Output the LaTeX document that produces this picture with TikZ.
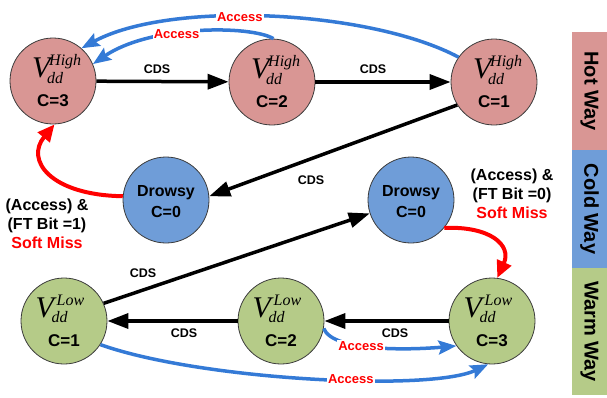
\documentclass[tikz,border=0pt]{standalone}
\usepackage{fontspec}
\setmainfont{Liberation Sans}
\newfontfamily\tnr{Liberation Serif}
\usetikzlibrary{arrows.meta}
\definecolor{hotc}{RGB}{217,150,148}
\definecolor{coldc}{RGB}{111,157,216}
\definecolor{warmc}{RGB}{181,203,136}
\definecolor{arrowblue}{RGB}{52,122,214}
\definecolor{edgegray}{RGB}{60,60,60}
\newcommand{\vhigh}{{\tnr\itshape\fontsize{30}{30}\selectfont V\kern-3.3pt\fontsize{16}{16}\selectfont\rlap{\raisebox{-6pt}{dd}}\kern2pt\raisebox{12pt}{High}}}
\newcommand{\vlow}{{\tnr\itshape\fontsize{30}{30}\selectfont V\kern-2.3pt\fontsize{16}{16}\selectfont\rlap{\raisebox{-5pt}{dd}}\kern5pt\raisebox{12pt}{Low}}}
\tikzset{
  state/.style={circle, draw=edgegray, line width=0.8pt, minimum size=86pt, inner sep=0pt},
  hotstate/.style={state, fill=hotc},
  coldstate/.style={state, fill=coldc},
  warmstate/.style={state, fill=warmc},
  vtext/.style={anchor=base west, inner sep=0pt},
  ctext/.style={anchor=base, inner sep=0pt, font=\fontsize{17}{17}\selectfont\bfseries},
  cdsarrow/.style={line width=3.5pt, -{Triangle[length=21pt,width=15pt]}},
  cdslbl/.style={font=\fontsize{12.5}{12.5}\selectfont\bfseries, inner sep=0pt},
  accarrow/.style={arrowblue, line width=3.5pt, -{Stealth[length=18pt,width=14pt,inset=3pt]}},
  acclbl/.style={font=\fontsize{13}{13}\selectfont\bfseries, text=red, fill=white, inner sep=1pt},
  missarrow/.style={red, line width=4pt, -{Triangle[length=17pt,width=15pt]}},
  misslbl/.style={font=\fontsize{16}{19}\selectfont\bfseries, align=center, inner sep=0pt},
  waybox/.style={minimum width=35pt, inner sep=0pt, font=\fontsize{20}{20}\selectfont\bfseries}
}
\begin{document}
\begin{tikzpicture}[x=1pt, y=-1pt]
\useasboundingbox (0,0) rectangle (607,397);
% side bar
\node[waybox, fill=hotc, minimum height=118pt] (hotway) at (589.5,91) {\rotatebox{-90}{Hot Way}};
\node[waybox, fill=coldc, minimum height=118pt] (coldway) at (589.5,209) {\rotatebox{-90}{Cold Way}};
\node[waybox, fill=warmc, minimum height=127pt] (warmway) at (589.5,331.5) {\rotatebox{-90}{Warm Way}};
% states
\node[hotstate] (h3) at (53,81) {};
\node[hotstate] (h2) at (272,82) {};
\node[hotstate] (h1) at (494,82) {};
\node[coldstate] (dl) at (166,200) {};
\node[coldstate] (dr) at (411,200) {};
\node[warmstate] (l1) at (64,321) {};
\node[warmstate] (l2) at (281,321) {};
\node[warmstate] (l3) at (492,321) {};
% state texts
\node[vtext] (h3v) at (32,77) {\vhigh};
\node[ctext] (h3c) at (53,106.5) {C=3};
\node[vtext] (h2v) at (251,78) {\vhigh};
\node[ctext] (h2c) at (272,107.5) {C=2};
\node[vtext] (h1v) at (473,78) {\vhigh};
\node[ctext] (h1c) at (494,107.5) {C=1};
\node[ctext, font=\fontsize{16}{16}\selectfont\bfseries] (dlt) at (166,196) {Drowsy};
\node[ctext, font=\fontsize{16}{16}\selectfont\bfseries] (dlc) at (166,217) {C=0};
\node[ctext, font=\fontsize{16}{16}\selectfont\bfseries] (drt) at (411,196) {Drowsy};
\node[ctext, font=\fontsize{16}{16}\selectfont\bfseries] (drc) at (411,217) {C=0};
\node[vtext] (l1v) at (35.5,317) {\vlow};
\node[ctext] (l1c) at (64,346.5) {C=1};
\node[vtext] (l2v) at (252.5,317) {\vlow};
\node[ctext] (l2c) at (281,346.5) {C=2};
\node[vtext] (l3v) at (463.5,317) {\vlow};
\node[ctext] (l3c) at (492,346.5) {C=3};
% CDS arrows
\draw[cdsarrow] (h3) -- (h2);
\node[cdslbl] (cds1) at (157,69) {CDS};
\draw[cdsarrow] (h2) -- (h1);
\node[cdslbl] (cds2) at (373,69) {CDS};
\draw[cdsarrow] (h1.212) -- (dl.5);
\node[cdslbl] (cds3) at (311,180) {CDS};
\draw[cdsarrow] (l1.24) -- (dr.198);
\node[cdslbl] (cds4) at (143,273) {CDS};
\draw[cdsarrow] (l2) -- (l1);
\node[cdslbl] (cds5) at (184,333) {CDS};
\draw[cdsarrow] (l3) -- (l2);
\node[cdslbl] (cds6) at (395,333) {CDS};
% soft miss arrows
\draw[missarrow] (dl.175) .. controls (50,195) and (25,160) .. (h3.-88);
\draw[missarrow] (dr.-40) .. controls (490,226) and (512,245) .. (l3.83);
\node[misslbl] (missl) at (47,224) {(Access) \&\\(FT Bit =1)\\\textcolor{red}{Soft Miss}};
\node[misslbl] (missr) at (512,193.5) {(Access) \&\\(FT Bit =0)\\\textcolor{red}{Soft Miss}};
% access arrows
\draw[accarrow] (h1.145) .. controls (370,10) and (170,0) .. (h3.49)
  node[acclbl, pos=0.57] (acc1) {Access};
\draw[accarrow] (h2.88) .. controls (250,25) and (150,25) .. (h3.23)
  node[acclbl, pos=0.59] (acc2) {Access};
\draw[accarrow] (l2.-10) .. controls (333,352) and (410,350) .. (l3.215)
  node[acclbl, pos=0.4] (acc3) {Access};
\draw[accarrow] (l1.-33) .. controls (200,380) and (430,392) .. (l3.-95)
  node[acclbl, pos=0.59] (acc4) {Access};
\end{tikzpicture}
\end{document}
